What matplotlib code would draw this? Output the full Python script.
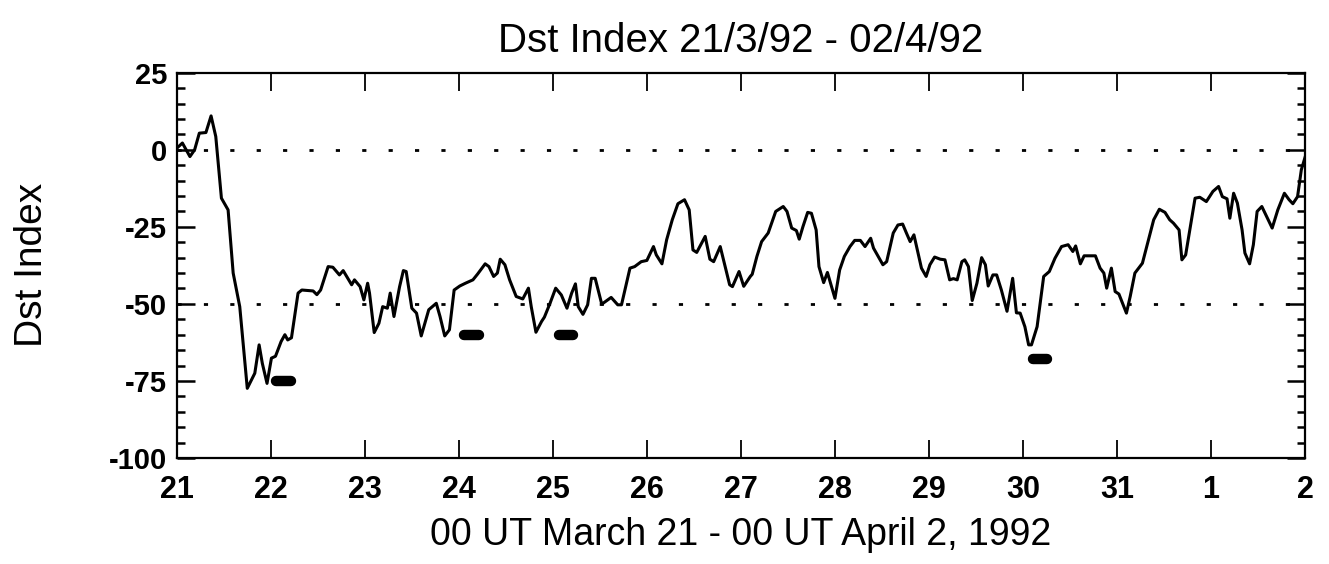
import matplotlib.pyplot as plt
from matplotlib.ticker import MultipleLocator

plt.rcParams['font.family'] = ['Liberation Sans', 'DejaVu Sans']
plt.rcParams['axes.unicode_minus'] = False

# время в сутках от 00 UT 21 марта и значения Dst (нТл)
days = [0.00, 0.06, 0.14, 0.19, 0.24, 0.31, 0.365, 0.415, 0.475, 0.546,
        0.60, 0.67, 0.75, 0.83, 0.876, 0.91, 0.96, 1.007, 1.05, 1.11,
        1.15, 1.18, 1.22, 1.29, 1.33, 1.45, 1.49, 1.53, 1.61, 1.66,
        1.73, 1.77, 1.86, 1.89, 1.95, 1.99, 2.03, 2.05, 2.10, 2.15,
        2.19, 2.24, 2.27, 2.31, 2.37, 2.41, 2.44, 2.50, 2.55, 2.60,
        2.68, 2.76, 2.80, 2.85, 2.90, 2.95, 3.01, 3.07, 3.15, 3.20,
        3.28, 3.32, 3.37, 3.41, 3.44, 3.49, 3.54, 3.61, 3.68, 3.74,
        3.77, 3.82, 3.88, 3.91, 3.97, 4.03, 4.09, 4.15, 4.20, 4.24,
        4.27, 4.32, 4.37, 4.41, 4.45, 4.52, 4.62, 4.69, 4.73, 4.82,
        4.87, 4.94, 5.00, 5.07, 5.10, 5.16, 5.21, 5.27, 5.33, 5.40,
        5.45, 5.49, 5.53, 5.62, 5.67, 5.71, 5.78, 5.88, 5.91, 5.98,
        6.03, 6.10, 6.12, 6.17, 6.22, 6.29, 6.37, 6.45, 6.49, 6.54,
        6.59, 6.62, 6.66, 6.71, 6.75, 6.80, 6.83, 6.88, 6.92, 7.00,
        7.05, 7.10, 7.16, 7.21, 7.27, 7.32, 7.38, 7.41, 7.51, 7.55,
        7.62, 7.67, 7.72, 7.76, 7.80, 7.84, 7.88, 7.92, 7.97, 8.01,
        8.06, 8.12, 8.17, 8.22, 8.26, 8.30, 8.35, 8.38, 8.42, 8.46,
        8.51, 8.56, 8.60, 8.63, 8.68, 8.72, 8.77, 8.83, 8.89, 8.93,
        8.97, 9.02, 9.06, 9.09, 9.15, 9.22, 9.28, 9.34, 9.41, 9.48,
        9.53, 9.56, 9.61, 9.65, 9.77, 9.82, 9.86, 9.89, 9.94, 9.98,
        10.02, 10.10, 10.14, 10.19, 10.27, 10.33, 10.39, 10.45, 10.51, 10.56,
        10.60, 10.66, 10.69, 10.73, 10.78, 10.83, 10.88, 10.95, 11.02, 11.08,
        11.12, 11.17, 11.20, 11.24, 11.28, 11.33, 11.36, 11.41, 11.45, 11.49,
        11.54, 11.59, 11.65, 11.71, 11.78, 11.83, 11.87, 11.92, 11.96, 12.00]
dst = [0.5, 2.2, -2.2, 0.0, 5.4, 5.6, 11.0, 4.3, -15.7, -19.5,
       -40.0, -50.9, -77.4, -72.5, -63.3, -69.3, -75.8, -67.6, -67.0, -62.2,
       -60.0, -61.7, -61.0, -46.5, -45.5, -45.8, -47.0, -45.5, -37.9, -38.1,
       -40.6, -39.2, -43.8, -42.2, -44.4, -48.7, -43.3, -46.5, -59.3, -56.3,
       -50.9, -51.4, -46.5, -54.1, -44.4, -39.2, -39.5, -51.4, -53.0, -60.4,
       -51.9, -49.8, -54.1, -60.4, -58.4, -45.5, -44.2, -43.3, -42.2, -40.3,
       -37.0, -37.9, -41.1, -40.0, -35.5, -37.3, -42.2, -47.6, -48.4, -44.9,
       -50.9, -59.2, -55.7, -54.3, -49.8, -44.9, -47.1, -51.4, -46.5, -43.5,
       -50.9, -53.4, -50.3, -41.7, -41.7, -50.1, -47.9, -50.3, -50.3, -38.4,
       -37.9, -36.3, -35.9, -31.4, -34.1, -37.0, -29.2, -22.7, -17.5, -16.2,
       -19.5, -32.5, -33.3, -28.1, -35.5, -36.3, -31.4, -43.8, -44.4, -39.5,
       -44.3, -41.1, -40.4, -34.6, -29.8, -27.0, -20.0, -18.4, -20.0, -25.4,
       -26.2, -29.0, -24.9, -20.3, -20.6, -26.0, -37.9, -43.1, -39.8, -48.2,
       -39.0, -34.6, -31.4, -29.4, -29.4, -31.4, -28.7, -31.9, -37.3, -36.3,
       -27.0, -24.4, -24.1, -27.0, -29.8, -27.6, -33.0, -38.4, -41.1, -37.3,
       -34.8, -35.5, -35.7, -42.2, -41.8, -42.2, -36.3, -35.7, -37.9, -48.9,
       -43.3, -35.0, -37.3, -44.2, -40.6, -40.6, -45.5, -52.4, -41.7, -52.9,
       -53.0, -57.4, -63.3, -63.3, -57.4, -41.1, -39.5, -35.2, -31.4, -30.8,
       -33.0, -31.2, -37.0, -34.4, -34.4, -38.4, -40.0, -44.9, -38.4, -46.0,
       -46.8, -53.0, -47.6, -40.0, -36.8, -29.8, -22.7, -19.3, -20.3, -22.7,
       -23.8, -26.0, -35.7, -34.1, -24.9, -15.7, -15.4, -16.8, -13.5, -11.9,
       -15.2, -15.9, -22.2, -14.1, -17.3, -26.0, -33.5, -37.0, -30.8, -20.0,
       -18.4, -21.6, -25.4, -19.5, -14.1, -16.2, -17.5, -15.2, -6.5, -2.4]

# отмеченные интервалы (начало, конец, уровень)
bar_start = [1.06, 3.06, 4.06, 9.11]
bar_end = [1.21, 3.21, 4.21, 9.25]
bar_level = [-75, -60, -60, -68]

day_labels = ['21', '22', '23', '24', '25', '26', '27', '28', '29', '30',
              '31', '1', '2']

fig = plt.figure(figsize=(13.29, 5.64), dpi=100)
ax = fig.add_axes([0.133, 0.188, 0.849, 0.683])

ax.plot(days, dst, color='black', lw=2.2)

for s, e, lev in zip(bar_start, bar_end, bar_level):
    ax.plot([s, e], [lev, lev], color='black', lw=7.5, solid_capstyle='round')

# пунктирные уровни 0 и -50
for lev in [0, -50]:
    ax.axhline(lev, color='black', lw=2, linestyle=(0, (1.5, 8)))

ax.set_xlim(0, 12)
ax.set_ylim(-100, 25)
ax.set_xticks(range(13))
ax.set_xticklabels(day_labels)
ax.yaxis.set_major_locator(MultipleLocator(25))
ax.yaxis.set_minor_locator(MultipleLocator(5))

ax.tick_params(axis='x', which='major', direction='in', top=True,
               length=13, width=1.3, pad=12, labelsize=22)
ax.tick_params(axis='y', which='major', direction='in', right=True,
               length=13, width=1.8, pad=7, labelsize=21)
ax.tick_params(axis='y', which='minor', direction='in', right=True,
               length=6, width=1.8)
for lbl in ax.get_xticklabels() + ax.get_yticklabels():
    lbl.set_fontweight('bold')

for sp in ax.spines.values():
    sp.set_linewidth(1.6)

ax.set_title('Dst Index 21/3/92 - 02/4/92', fontsize=29, pad=15)
ax.set_xlabel('00 UT March 21 - 00 UT April 2, 1992', fontsize=27, labelpad=9)
ax.set_ylabel('Dst Index', fontsize=28, labelpad=42)

plt.savefig('out.png', dpi=100)
